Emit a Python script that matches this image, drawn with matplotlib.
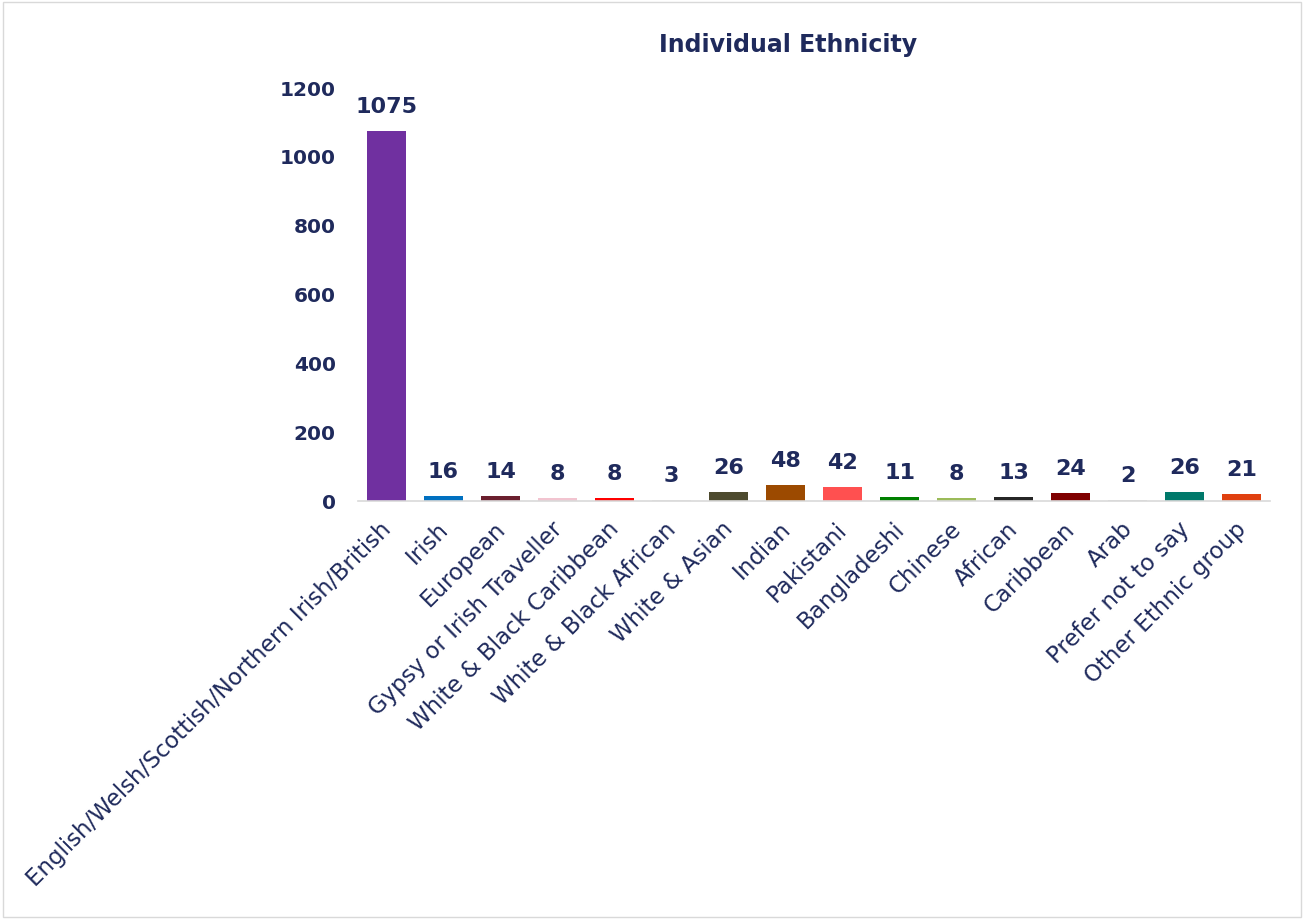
import matplotlib.pyplot as plt
import matplotlib.transforms as mtransforms
from matplotlib.patches import Rectangle

categories = ['English/Welsh/Scottish/Northern Irish/British', 'Irish', 'European',
              'Gypsy or Irish Traveller', 'White & Black Caribbean', 'White & Black African',
              'White & Asian', 'Indian', 'Pakistani', 'Bangladeshi', 'Chinese', 'African',
              'Caribbean', 'Arab', 'Prefer not to say', 'Other Ethnic group']
counts = [1075, 16, 14, 8, 8, 3, 26, 48, 42, 11, 8, 13, 24, 2, 26, 21]
bar_colors = ['#7030A0', '#0070C0', '#6B1F2E', '#F2C4D0', '#FF0000', '#E8E8E8',
              '#4D4A2E', '#9C4A00', '#FF5050', '#008000', '#9BBB59', '#262626',
              '#7F0000', '#D9D9D9', '#00796B', '#E0400F']
y_ticks = [0, 200, 400, 600, 800, 1000, 1200]

navy = '#1F2A5C'

fig = plt.figure(figsize=(13.04, 9.19), dpi=100)
ax = fig.add_axes([0.2745, 0.4548, 0.6995, 0.4494])

x = range(len(categories))
bars = ax.bar(x, counts, width=0.68, color=bar_colors)
for xi, v in zip(x, counts):
    ax.annotate(str(v), (xi, v), xytext=(0, 10), textcoords='offset points',
                ha='center', va='bottom', fontsize=16, fontweight='bold', color=navy)

ax.set_xlim(-0.5, len(categories) - 0.5)
ax.set_ylim(0, 1200)
ax.set_yticks(y_ticks)
ax.set_yticklabels([str(t) for t in y_ticks], fontsize=14.5, fontweight='bold', color=navy)
ax.set_xticks(list(x))
ax.set_xticklabels(categories, rotation=45, ha='right', rotation_mode='anchor',
                   fontsize=16.5, color=navy)
ax.tick_params(axis='both', length=0)
ax.tick_params(axis='y', pad=16)
ax.tick_params(axis='x', pad=12)
shift = mtransforms.ScaledTranslation(-5 / 72, 0, fig.dpi_scale_trans)
for lbl in ax.get_xticklabels():
    lbl.set_transform(lbl.get_transform() + shift)
for side in ['top', 'right', 'left']:
    ax.spines[side].set_visible(False)
ax.spines['bottom'].set_color('#D9D9D9')
ax.spines['bottom'].set_linewidth(1.2)

fig.text(0.604, 0.951, 'Individual Ethnicity', ha='center', va='center',
         fontsize=17, fontweight='bold', color=navy)

fig.patches.append(Rectangle((0.002, 0.002), 0.996, 0.996, transform=fig.transFigure,
                             fill=False, edgecolor='#D9D9D9', linewidth=1))

fig.savefig('out.png', dpi=100)
